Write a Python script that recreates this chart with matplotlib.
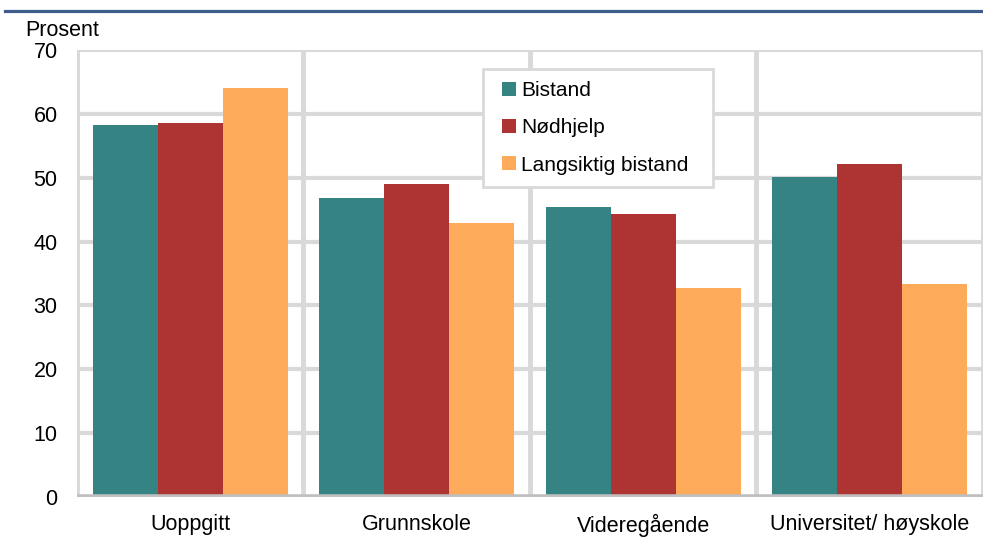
import numpy as np
import matplotlib
matplotlib.use('Agg')
import matplotlib.pyplot as plt
from matplotlib.lines import Line2D
from matplotlib.patches import Rectangle

plt.rcParams['font.family'] = ['Liberation Sans', 'DejaVu Sans']

categories = ['Uoppgitt', 'Grunnskole', 'Videregående', 'Universitet/ høyskole']
series_names = ['Bistand', 'Nødhjelp', 'Langsiktig bistand']
bistand = [58.2, 46.8, 45.4, 50.1]
nodhjelp = [58.5, 49.0, 44.3, 52.1]
langsiktig = [64.0, 42.9, 32.7, 33.3]
colors = ['#358383', '#ae3333', '#fdab5a']

FS = 15.5

fig = plt.figure(figsize=(9.83, 5.38), dpi=100)
ax = fig.add_axes([0.0783, 0.0762, 0.9217, 0.8308])

x = np.arange(len(categories))
width = 0.287
for i, (vals, name) in enumerate(zip([bistand, nodhjelp, langsiktig], series_names)):
    ax.bar(x + (i - 1) * width, vals, width, color=colors[i], label=name, zorder=3)

ax.set_xlim(-0.5, len(categories) - 0.5)
ax.set_ylim(0, 70)
ax.set_yticks(range(0, 71, 10))
ax.set_xticks(x)
ax.set_xticklabels(categories, fontsize=FS)
ax.tick_params(axis='y', labelsize=FS, length=0, pad=14)
ax.tick_params(axis='x', length=0, pad=12)

# grid
for yv in range(10, 71, 10):
    ax.axhline(yv, color='#d9d9d9', lw=3, zorder=1)
for xv in np.arange(-0.5, len(categories), 1.0):
    ax.axvline(xv, color='#d9d9d9', lw=3.5, zorder=1)
ax.axhline(0, color='#bfbfbf', lw=4, zorder=4)
for s in ax.spines.values():
    s.set_visible(False)

ax.text(-0.057, 1.02, 'Prosent', transform=ax.transAxes, fontsize=FS, va='bottom', ha='left')

# legend box drawn by hand so the padding can differ left/top
ax.add_patch(Rectangle((483 / 983, 1 - 187 / 538), 230 / 983, 118 / 538,
                       transform=fig.transFigure, facecolor='white',
                       edgecolor='#d9d9d9', lw=2, zorder=5, clip_on=False))
leg = ax.legend(loc='upper left', bbox_to_anchor=(502 / 983, 1 - 81 / 538),
                bbox_transform=fig.transFigure, fontsize=15,
                handlelength=0.67, handleheight=0.67, handletextpad=0.25,
                borderpad=0, borderaxespad=0, labelspacing=0.88, frameon=False)
leg.set_zorder(6)

# top rule
fig.add_artist(Line2D([0.005, 1.0], [0.9795, 0.9795], color='#3f5d8c', lw=2.3,
                      transform=fig.transFigure))

fig.savefig('out.png', dpi=100)
